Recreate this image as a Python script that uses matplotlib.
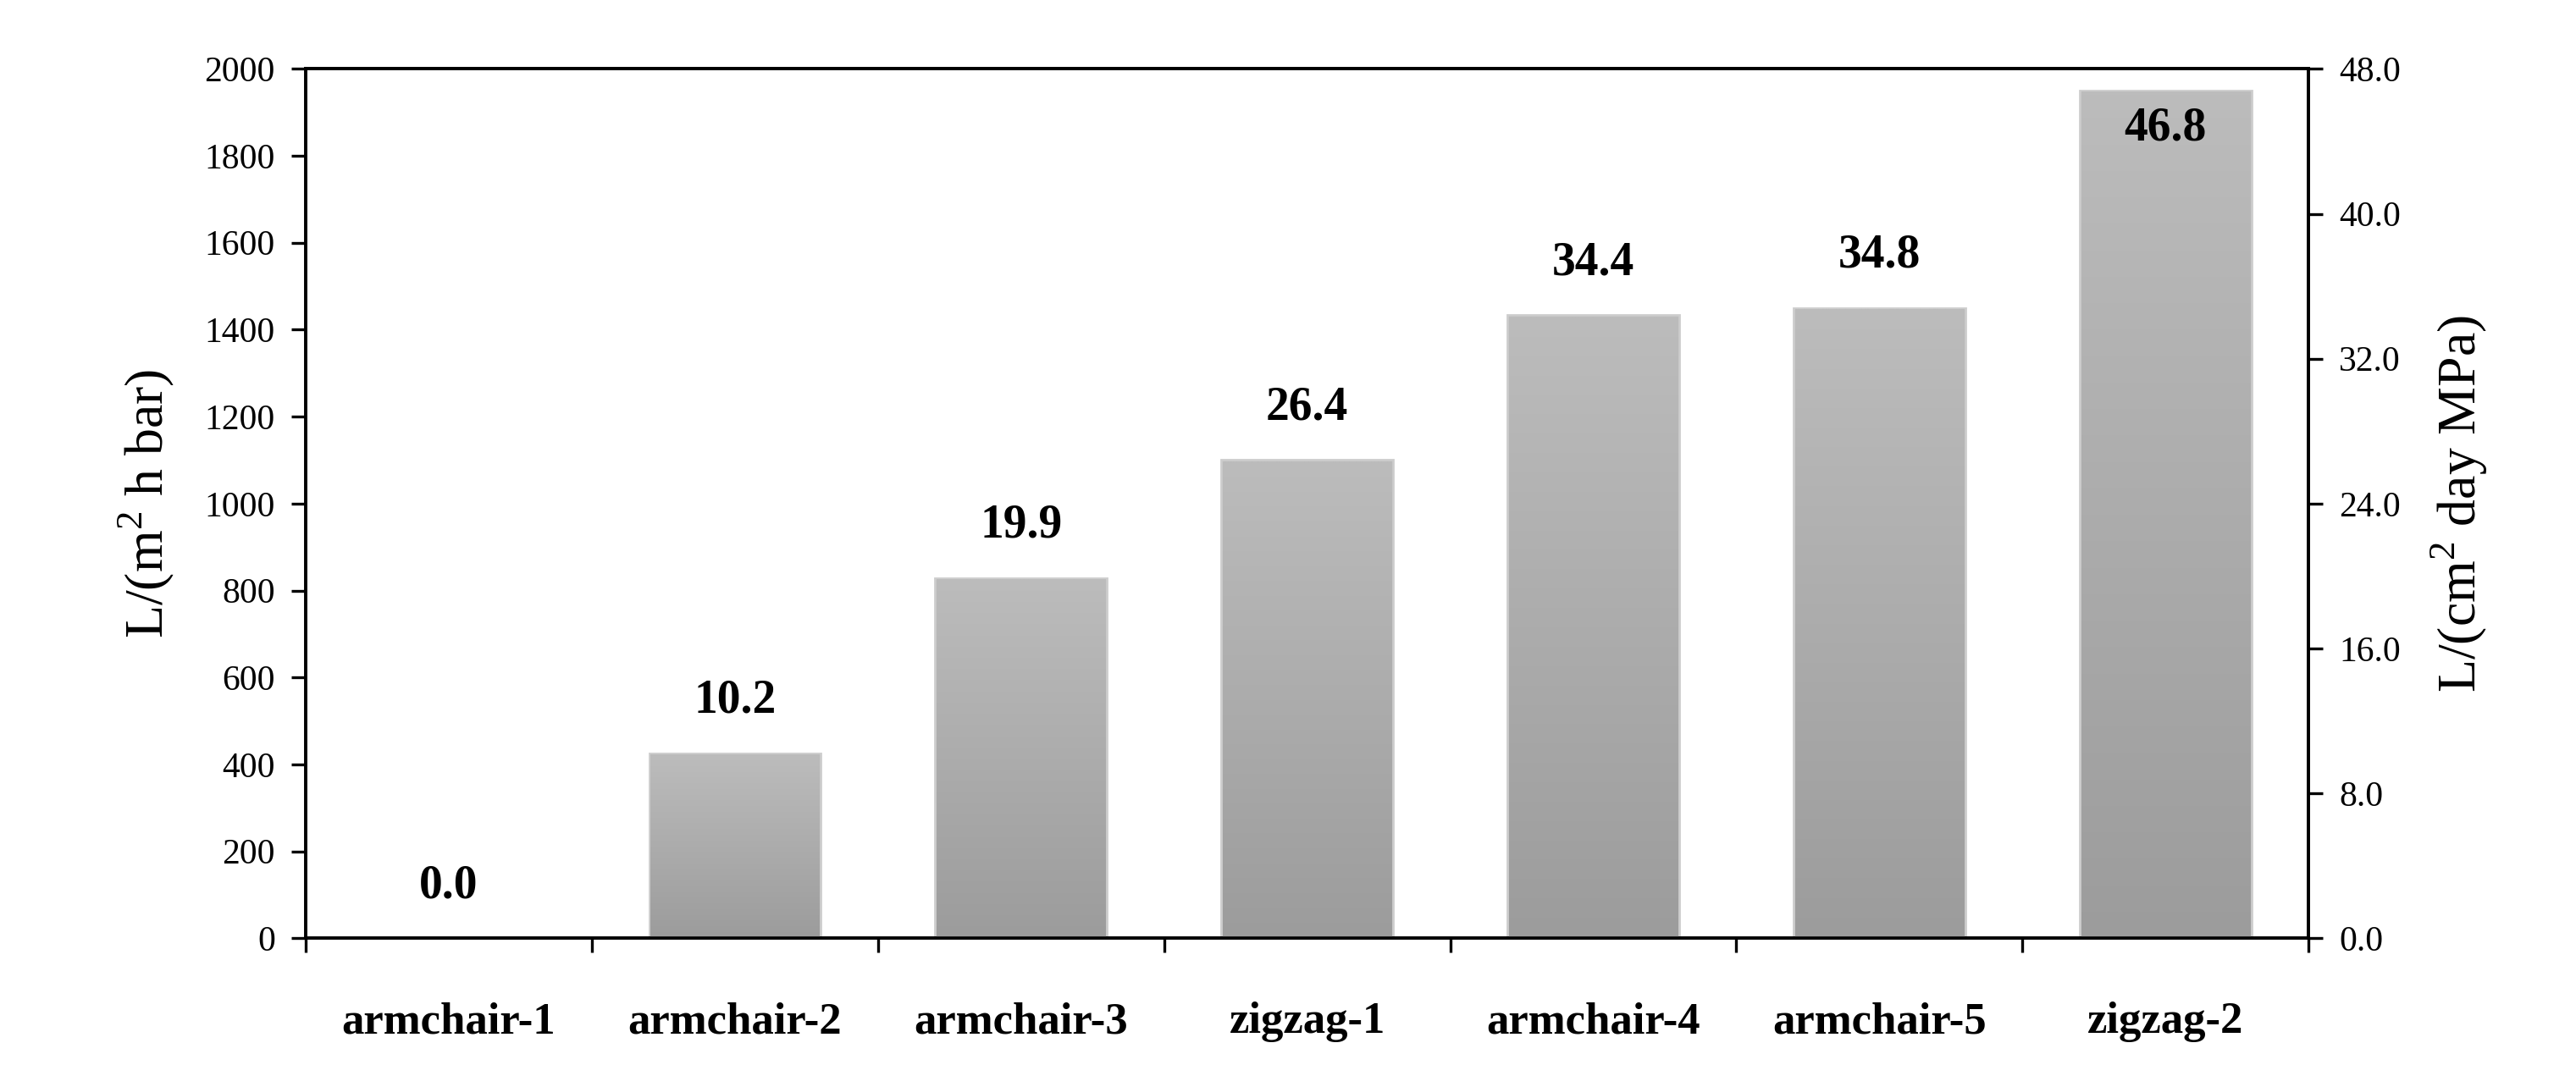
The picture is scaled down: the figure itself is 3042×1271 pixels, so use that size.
import matplotlib
matplotlib.use('Agg')
from matplotlib import pyplot
import matplotlib.ticker as ticker
import numpy

# permeability per structure, L/(cm2 day MPa)
names = ['armchair-1', 'armchair-2', 'armchair-3', 'zigzag-1',
         'armchair-4', 'armchair-5', 'zigzag-2']
perm = [0.0, 10.2, 19.9, 26.4, 34.4, 34.8, 46.8]
# 1 L/(cm2 day MPa) -> L/(m2 h bar)
conv = 1e4 / 24 / 10

pyplot.rcParams['font.family'] = ['Liberation Serif', 'DejaVu Serif']
pyplot.rcParams['mathtext.fontset'] = 'custom'
pyplot.rcParams['mathtext.rm'] = 'Liberation Serif'

fig = pyplot.figure(figsize=(15.21, 6.355), dpi=200)
ax = fig.add_axes([0.1187, 0.128, 0.7775, 0.808])
ax2 = ax.twinx()

x = numpy.arange(len(names))
left_vals = numpy.array(perm) * conv
bars = ax.bar(x, left_vals, width=0.6, color='#b0b0b0', edgecolor='#cdcdcd',
              linewidth=1.0, zorder=2)

# vertical gray gradient in each bar
grad = numpy.linspace(0, 1, 256).reshape(-1, 1)
cmap = matplotlib.colors.LinearSegmentedColormap.from_list('g', ['#9c9c9c', '#bcbcbc'])
for b in bars:
    h = b.get_height()
    if h <= 0:
        continue
    x0 = b.get_x()
    ax.imshow(grad, extent=[x0 + 0.005, x0 + b.get_width() - 0.005, 0, h - 4],
              origin='lower', aspect='auto', cmap=cmap, zorder=3)

for i, b in enumerate(bars):
    h = b.get_height()
    if i == len(bars) - 1:
        ax.annotate('%.1f' % perm[i], (b.get_x() + b.get_width() / 2, h),
                    xytext=(0, -6.5), textcoords='offset points', ha='center',
                    va='top', fontsize=20, fontweight='bold', zorder=5)
    else:
        ax.annotate('%.1f' % perm[i], (b.get_x() + b.get_width() / 2, h),
                    xytext=(0, 13), textcoords='offset points', ha='center',
                    va='bottom', fontsize=20, fontweight='bold', zorder=5)

ax.set_xlim(-0.5, len(names) - 0.5)
ax.set_ylim(0, 2000)
ax2.set_ylim(0, 48)

ax.yaxis.set_major_locator(ticker.MultipleLocator(200))
ax2.yaxis.set_major_locator(ticker.MultipleLocator(8))
ax2.yaxis.set_major_formatter(ticker.FormatStrFormatter('%.1f'))

ax.set_xticks(x)
ax.set_xticklabels(names, fontsize=19, fontweight='bold')
ax.xaxis.set_minor_locator(ticker.FixedLocator(numpy.arange(-0.5, len(names), 1)))
ax.tick_params(axis='x', which='major', length=0, pad=27)
ax.tick_params(axis='x', which='minor', length=6, width=1.2, direction='out')
ax.tick_params(axis='y', length=6, width=1.2, direction='out', labelsize=15, pad=7)
ax2.tick_params(axis='y', length=6, width=1.2, direction='out', labelsize=15, pad=7)

for a in (ax, ax2):
    for s in a.spines.values():
        s.set_linewidth(1.3)
        s.set_color('black')

ax.set_ylabel('L/(m$^2$ h bar)', fontsize=23, labelpad=12)
ax2.set_ylabel('L/(cm$^2$ day MPa)', fontsize=23, labelpad=12)

fig.savefig('out.png')
